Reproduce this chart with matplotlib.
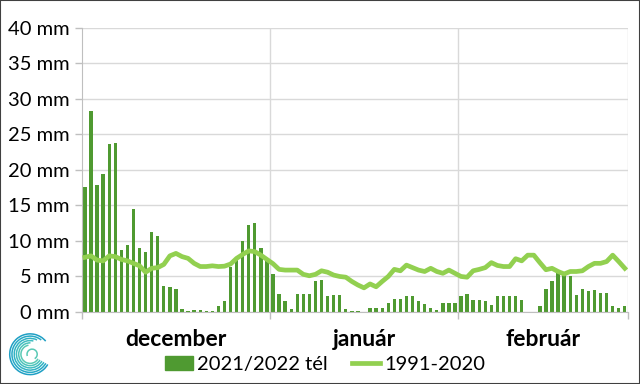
import numpy as np
import matplotlib
matplotlib.use("Agg")
import matplotlib.pyplot as plt
from matplotlib.patches import Arc, Rectangle
from matplotlib.lines import Line2D

# Daily precipitation (mm), winter 2021/2022
dec_rain = [17.6, 28.3, 17.9, 19.4, 23.7, 23.8, 8.7, 9.4, 14.5, 9.0,
            8.4, 11.2, 10.7, 3.7, 3.5, 3.3, 0.4, 0.1, 0.25, 0.25,
            0.15, 0.1, 0.9, 1.5, 6.3, 7.5, 10.0, 12.3, 12.5, 9.0, 7.4]
jan_rain = [5.4, 2.5, 1.5, 0.4, 2.5, 2.5, 2.5, 4.3, 4.5, 2.25,
            2.4, 2.4, 0.4, 0.1, 0.1, 0.0, 0.55, 0.55, 0.55, 1.25,
            1.8, 1.9, 2.25, 2.25, 1.6, 1.1, 0.55, 0.3, 1.25, 1.25, 1.25]
feb_rain = [2.2, 2.6, 1.7, 1.65, 1.6, 1.0, 2.2, 2.2, 2.2, 2.2,
            1.7, 0.05, 0.05, 0.8, 3.3, 4.4, 5.45, 5.45, 5.0, 2.45,
            3.3, 3.0, 3.1, 2.7, 2.7, 0.85, 0.6, 0.85]

# 1991-2020 daily mean (mm)
dec_mean = [7.7, 7.9, 7.3, 7.2, 7.9, 7.8, 7.4, 7.2, 6.85, 6.5,
            5.6, 6.15, 6.25, 6.7, 7.9, 8.25, 7.8, 7.55, 6.85, 6.4,
            6.4, 6.5, 6.4, 6.45, 6.75, 7.55, 8.1, 8.6, 8.5, 8.0, 7.4]
jan_mean = [6.8, 6.0, 5.9, 5.9, 5.9, 5.3, 5.1, 5.3, 5.8, 5.6,
            5.2, 5.0, 4.9, 4.3, 3.8, 3.4, 3.95, 3.55, 4.3, 5.0,
            6.0, 5.8, 6.6, 6.25, 5.9, 5.7, 6.15, 5.7, 5.45, 5.9, 5.45]
feb_mean = [5.0, 4.9, 5.8, 6.0, 6.25, 6.95, 6.55, 6.4, 6.4, 7.5,
            7.2, 8.0, 8.0, 6.95, 5.95, 6.15, 5.7, 5.35, 5.7, 5.7,
            5.8, 6.4, 6.85, 6.85, 7.1, 8.0, 7.1, 6.15]

months = ["december", "január", "február"]
yticks = [0, 5, 10, 15, 20, 25, 30, 35, 40]
series_labels = ["2021/2022 tél", "1991-2020"]

BAR_COLOR = "#4f9a31"
LINE_COLOR = "#92d050"
GRID_COLOR = "#d9d9d9"

rain = dec_rain + jan_rain + feb_rain
mean = dec_mean + jan_mean + feb_mean
days = np.arange(len(rain))
lengths = [len(dec_rain), len(jan_rain), len(feb_rain)]
bounds = np.concatenate([[0], np.cumsum(lengths)]) - 0.5

plt.rcParams["font.family"] = ["Lato", "DejaVu Sans"]

fig = plt.figure(figsize=(6.4, 3.84), dpi=100)
ax = fig.add_axes([0.128, 0.1875, 0.853, 0.74])

ax.bar(days, rain, width=0.55, color=BAR_COLOR, zorder=2)
ax.plot(days, mean, color=LINE_COLOR, linewidth=3.4, solid_joinstyle="round",
        zorder=3)

ax.set_xlim(bounds[0], bounds[-1])
ax.set_ylim(0, 40)
ax.set_yticks(yticks)
ax.set_yticklabels([f"{v} mm" for v in yticks], fontsize=14.5, color="#000000")
ax.yaxis.grid(True, color=GRID_COLOR, linewidth=1, zorder=0)
for b in bounds[1:]:
    ax.axvline(b, color=GRID_COLOR, linewidth=1, zorder=0)

ax.set_xticks(bounds)
ax.set_xticklabels([])
ax.tick_params(axis="x", length=5, color="#bfbfbf", width=1)
ax.tick_params(axis="y", length=5, color="#bfbfbf", width=1, pad=4)

for side in ["top", "right"]:
    ax.spines[side].set_visible(False)
ax.spines["left"].set_color("#bfbfbf")
ax.spines["bottom"].set_color("#bfbfbf")

centers = (bounds[:-1] + bounds[1:]) / 2
for c, name in zip(centers, months):
    ax.text(c, -0.06, name, transform=ax.get_xaxis_transform(), ha="center",
            va="top", fontsize=16.5, fontweight="bold")

handles = [Rectangle((0, 0), 1, 1, color=BAR_COLOR),
           Line2D([0], [0], color=LINE_COLOR, linewidth=3.4)]
fig.legend(handles, series_labels, loc="center", bbox_to_anchor=(0.508, 0.05),
           ncol=2, frameon=False, fontsize=14.5, handlelength=1.4,
           handletextpad=0.2, columnspacing=1.2)

# logo
lax = fig.add_axes([0.012, 0.01, 0.07, 0.135])
lax.set_aspect("equal")
lax.axis("off")
lax.set_xlim(-1.1, 1.1)
lax.set_ylim(-1.1, 1.1)
cols = ["#1f9fc4", "#27a9c6", "#33b3c4", "#40bcc0", "#4cc3bb", "#5ac9b5"]
for k, r in enumerate(np.linspace(1.0, 0.45, 6)):
    lax.add_patch(Arc((0, 0), 2 * r, 2 * r, theta1=40 + k * 12, theta2=330,
                      color=cols[k], linewidth=1.1))
lax.add_patch(Arc((0.1, 0), 0.5, 0.5, theta1=-60, theta2=200,
                  color="#5ac9b5", linewidth=1.1))

fig.patches.append(Rectangle((0, 0), 1, 1, transform=fig.transFigure,
                             fill=False, edgecolor="#404040", linewidth=1.5))

fig.savefig("out.png", dpi=100, facecolor="white")
